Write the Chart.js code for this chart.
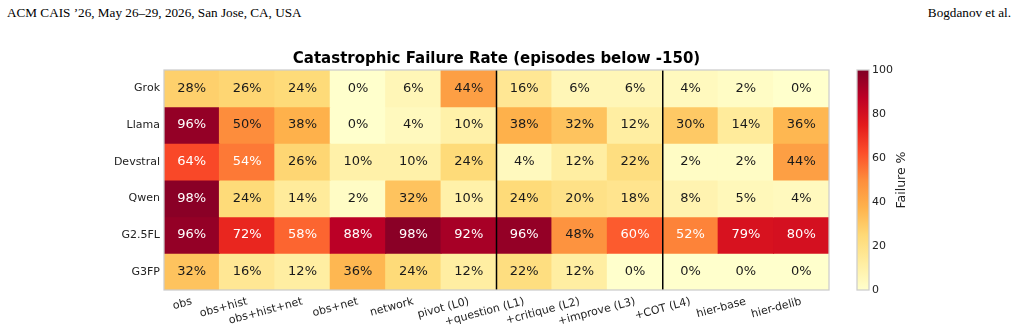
<!DOCTYPE html>
<html>
<head>
<meta charset="utf-8">
<script src="https://cdn.jsdelivr.net/npm/chart.js@4.4.1/dist/chart.umd.min.js"></script>
<style>
  html, body { margin: 0; padding: 0; background: #fff; }
  body { width: 1021px; height: 327px; position: relative; overflow: hidden; }
  .hdr { position: absolute; top: 5px; font-family: 'Liberation Serif', serif; font-size: 13.2px; color: #000; white-space: nowrap; }
  #main { position: absolute; left: 0; top: 0; }
  #cbar { position: absolute; left: 830px; top: 0; }
</style>
</head>
<body>
<div class="hdr" style="left:7px">ACM CAIS ’26, May 26–29, 2026, San Jose, CA, USA</div>
<div class="hdr" style="right:10px">Bogdanov et al.</div>
<canvas id="main" width="1021" height="327"></canvas>
<canvas id="cbar" width="191" height="327"></canvas>
<script>
// rows (models) and columns (prompting configs)
const models = ['Grok', 'Llama', 'Devstral', 'Qwen', 'G2.5FL', 'G3FP'];
const configs = ['obs', 'obs+hist', 'obs+hist+net', 'obs+net', 'network', 'pivot (L0)',
  '+question (L1)', '+critique (L2)', '+improve (L3)', '+COT (L4)', 'hier-base', 'hier-delib'];

// failure rates in %, one array per model
const grok     = [28, 26, 24, 0, 6, 44, 16, 6, 6, 4, 2, 0];
const llama    = [96, 50, 38, 0, 4, 10, 38, 32, 12, 30, 14, 36];
const devstral = [64, 54, 26, 10, 10, 24, 4, 12, 22, 2, 2, 44];
const qwen     = [98, 24, 14, 2, 32, 10, 24, 20, 18, 8, 5, 4];
const g25fl    = [96, 72, 58, 88, 98, 92, 96, 48, 60, 52, 79, 80];
const g3fp     = [32, 16, 12, 36, 24, 12, 22, 12, 0, 0, 0, 0];
const rates = [grok, llama, devstral, qwen, g25fl, g3fp];

// black separators after these columns
const groupEnds = ['pivot (L0)', '+improve (L3)'];
const cbarTicks = [0, 20, 40, 60, 80, 100];

// matplotlib YlOrRd
const ylorrd = ['#ffffcc', '#ffeda0', '#fed976', '#feb24c', '#fd8d3c', '#fc4e2a', '#e31a1c', '#bd0026', '#800026'];
function hexRgb(h) {
  return [parseInt(h.slice(1, 3), 16), parseInt(h.slice(3, 5), 16), parseInt(h.slice(5, 7), 16)];
}
function cmap(v) {
  var t = Math.max(0, Math.min(1, v / 100)) * (ylorrd.length - 1);
  var k = Math.min(Math.floor(t), ylorrd.length - 2);
  var f = t - k;
  var a = hexRgb(ylorrd[k]), b = hexRgb(ylorrd[k + 1]);
  var c = a.map((x, i) => Math.round(x + (b[i] - x) * f));
  return 'rgb(' + c.join(',') + ')';
}

const tickFont = { family: 'DejaVu Sans', size: 11 };
const gridColor = 'rgba(205,205,205,0.8)';

const cellText = {
  id: 'cellText',
  afterDatasetsDraw(chart) {
    const { ctx, scales: { x, y } } = chart;
    ctx.save();
    ctx.font = '13px "DejaVu Sans"';
    ctx.textAlign = 'center';
    ctx.textBaseline = 'middle';
    rates.forEach((row, i) => {
      row.forEach((v, j) => {
        ctx.fillStyle = v > 50 ? '#ffffff' : '#1a1a1a';
        ctx.fillText(v + '%', x.getPixelForValue(j), y.getPixelForValue(i));
      });
    });
    ctx.restore();
  }
};

const frame = {
  id: 'frame',
  afterDraw(chart) {
    const { ctx, chartArea: a, scales: { x } } = chart;
    ctx.save();
    ctx.strokeStyle = '#000';
    ctx.lineWidth = 1.5;
    groupEnds.forEach(lbl => {
      const j = configs.indexOf(lbl);
      const px = (x.getPixelForValue(j) + x.getPixelForValue(j + 1)) / 2;
      ctx.beginPath();
      ctx.moveTo(px, a.top);
      ctx.lineTo(px, a.bottom);
      ctx.stroke();
    });
    ctx.strokeStyle = '#cccccc';
    ctx.lineWidth = 1.25;
    ctx.strokeRect(a.left, a.top, a.right - a.left, a.bottom - a.top);
    ctx.restore();
  }
};

new Chart(document.getElementById('main'), {
  type: 'bar',
  plugins: [cellText, frame],
  data: {
    labels: configs,
    datasets: rates.map((row, i) => ({
      label: models[i],
      data: row.map(() => [i - 0.5, i + 0.5]),
      backgroundColor: row.map(cmap),
      grouped: false,
      barPercentage: 1,
      categoryPercentage: 1,
      borderWidth: 0,
      inflateAmount: 0.5,
    }))
  },
  options: {
    responsive: false,
    animation: false,
    layout: { padding: { left: 0, right: 192, top: 50, bottom: 0 } },
    plugins: {
      legend: { display: false },
      tooltip: { enabled: false },
      title: {
        display: true,
        fullSize: false,
        text: 'Catastrophic Failure Rate (episodes below -150)',
        color: '#000',
        font: { family: 'DejaVu Sans', size: 15, weight: 'bold' },
        padding: { top: 0, bottom: 2 }
      }
    },
    scales: {
      x: {
        type: 'category',
        offset: true,
        z: 1,
        border: { display: false },
        grid: { offset: false, color: gridColor, drawTicks: false },
        ticks: { autoSkip: false, minRotation: 15, maxRotation: 15, padding: 5, color: '#222', font: tickFont },
        afterFit(s) { s.height = 37; }
      },
      y: {
        type: 'linear',
        reverse: true,
        min: -0.5,
        max: 5.5,
        z: 1,
        border: { display: false },
        grid: { color: gridColor, drawTicks: false },
        afterBuildTicks(s) { s.ticks = models.map((m, i) => ({ value: i })); },
        ticks: { callback: v => models[v], padding: 4, color: '#222', font: tickFont },
        afterFit(s) { s.width = 164; }
      }
    }
  }
});

// colorbar
const cbarDeco = {
  id: 'cbarDeco',
  afterDraw(chart) {
    const { ctx, chartArea: a } = chart;
    ctx.save();
    ctx.strokeStyle = '#cccccc';
    ctx.lineWidth = 1.25;
    ctx.strokeRect(a.left, a.top, a.right - a.left, a.bottom - a.top);
    ctx.translate(a.right + 33, (a.top + a.bottom) / 2);
    ctx.rotate(-Math.PI / 2);
    ctx.font = '12.5px "DejaVu Sans"';
    ctx.fillStyle = '#222';
    ctx.textAlign = 'center';
    ctx.textBaseline = 'middle';
    ctx.fillText('Failure %', 0, 0);
    ctx.restore();
  }
};

new Chart(document.getElementById('cbar'), {
  type: 'bar',
  plugins: [cbarDeco],
  data: {
    labels: ['Failure %'],
    datasets: [{
      data: [[cbarTicks[0], cbarTicks[cbarTicks.length - 1]]],
      backgroundColor: function (context) {
        const { ctx, chartArea, scales } = context.chart;
        if (!chartArea) return null;
        const g = ctx.createLinearGradient(0, scales.y.getPixelForValue(0), 0, scales.y.getPixelForValue(100));
        ylorrd.forEach((c, k) => g.addColorStop(k / (ylorrd.length - 1), c));
        return g;
      },
      barPercentage: 1,
      categoryPercentage: 1,
      borderWidth: 0,
    }]
  },
  options: {
    responsive: false,
    animation: false,
    layout: { padding: { left: 27, right: 102, top: 70, bottom: 37 } },
    plugins: { legend: { display: false }, tooltip: { enabled: false } },
    scales: {
      x: { display: false },
      y: {
        position: 'right',
        min: 0,
        max: 100,
        border: { display: false },
        grid: { display: false, drawTicks: false },
        afterBuildTicks(s) { s.ticks = cbarTicks.map(v => ({ value: v })); },
        ticks: { padding: 3, color: '#222', font: tickFont },
        afterFit(s) { s.width = 50; }
      }
    }
  }
});
</script>
</body>
</html>
